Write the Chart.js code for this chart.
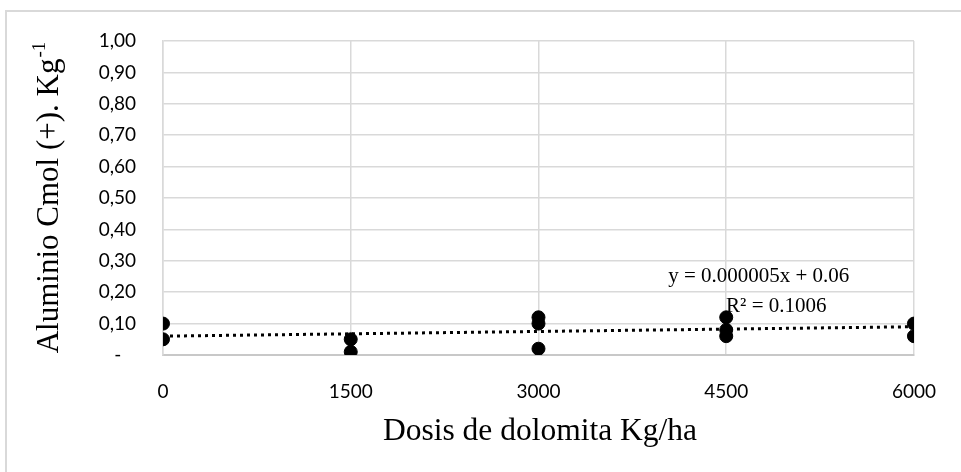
<!DOCTYPE html>
<html>
<head>
<meta charset="utf-8">
<script src="https://cdn.jsdelivr.net/npm/chart.js@4"></script>
<style>
  html, body { margin: 0; padding: 0; background: #fff; overflow: hidden; }
  #frame { position: absolute; left: 5px; top: 10px; width: 1000px; height: 520px; border: 2px solid #d9d9d9; box-sizing: border-box; }
  #chart { position: absolute; left: 0; top: 0; }
</style>
</head>
<body>
<div id="frame"></div>
<canvas id="chart" width="961" height="472"></canvas>
<script>
// --- Datos ---
const dosisTicks = [0, 1500, 3000, 4500, 6000];
const dosis = [0, 0, 1500, 1500, 3000, 3000, 3000, 4500, 4500, 4500, 6000, 6000];
const aluminio = [0.10, 0.05, 0.05, 0.01, 0.12, 0.10, 0.02, 0.12, 0.08, 0.06, 0.10, 0.06];
const trendX = [0, 6000];
const trendY = [0.06, 0.09];
const ecuacion = 'y = 0.000005x + 0.06';
const r2 = 'R² = 0.1006';
const tituloX = 'Dosis de dolomita Kg/ha';
const tituloY = 'Aluminio Cmol (+). Kg';
const tituloYSup = '-1';

// --- Geometría ---
const AREA = { left: 163, top: 41, right: 917, bottom: 355 };
const W = 961, H = 472;

const serif = '"Liberation Serif", "Times New Roman", serif';
const tickFont = { family: 'Lato, "Open Sans", sans-serif', size: 19 };

// Títulos y etiqueta de tendencia (texto real dibujado en el canvas)
const textos = {
  id: 'textos',
  afterDraw(c) {
    const ctx = c.ctx;
    ctx.save();
    ctx.fillStyle = '#000';
    ctx.textBaseline = 'middle';

    // título eje X
    ctx.font = `31.5px ${serif}`;
    ctx.textAlign = 'center';
    ctx.fillText(tituloX, (AREA.left + AREA.right) / 2, 432);

    // título eje Y con superíndice
    ctx.translate(50, 198);
    ctx.rotate(-Math.PI / 2);
    ctx.font = `31px ${serif}`;
    const w1 = ctx.measureText(tituloY).width;
    ctx.font = `19px ${serif}`;
    const w2 = ctx.measureText(tituloYSup).width;
    const x0 = -(w1 + w2) / 2;
    ctx.textAlign = 'left';
    ctx.font = `31px ${serif}`;
    ctx.fillText(tituloY, x0, 0);
    ctx.font = `19px ${serif}`;
    ctx.fillText(tituloYSup, x0 + w1 + 1, -10);
    ctx.restore();

    // ecuación
    const xs = c.scales.x, ys = c.scales.y;
    ctx.save();
    ctx.fillStyle = '#000';
    ctx.textBaseline = 'middle';
    ctx.textAlign = 'center';
    ctx.font = `21px ${serif}`;
    ctx.fillText(ecuacion, xs.getPixelForValue(4760), ys.getPixelForValue(0.25));
    ctx.fillText(r2, xs.getPixelForValue(4900), ys.getPixelForValue(0.155));
    ctx.restore();
  }
};

new Chart(document.getElementById('chart'), {
  type: 'scatter',
  data: {
    datasets: [
      {
        label: 'Tendencia',
        type: 'line',
        data: trendX.map((x, i) => ({ x, y: trendY[i] })),
        borderColor: '#000',
        borderWidth: 3,
        borderDash: [3, 4],
        pointRadius: 0,
        fill: false,
        order: 1
      },
      {
        label: 'Aluminio',
        data: dosis.map((x, i) => ({ x, y: aluminio[i] })),
        backgroundColor: '#000',
        borderColor: '#000',
        pointRadius: 6.5,
        pointHoverRadius: 6.5,
        order: 2
      }
    ]
  },
  options: {
    responsive: false,
    animation: false,
    events: [],
    layout: { autoPadding: false, padding: { left: 0, top: AREA.top, right: W - AREA.right, bottom: 0 } },
    plugins: { legend: { display: false }, tooltip: { enabled: false } },
    scales: {
      x: {
        type: 'linear',
        min: 0, max: 6000,
        afterBuildTicks: (s) => { s.ticks = dosisTicks.map(v => ({ value: v })); },
        afterFit: (s) => { s.height = H - AREA.bottom; },
        grid: { color: '#d9d9d9', lineWidth: 1.5, drawTicks: false },
        border: { color: '#c8c8c8', width: 2 },
        ticks: { color: '#000', font: tickFont, padding: 25, maxRotation: 0, callback: (v) => String(v) }
      },
      y: {
        min: 0, max: 1,
        afterFit: (s) => { s.width = AREA.left; },
        grid: { color: '#d9d9d9', lineWidth: 1.5, drawTicks: false },
        border: { color: '#d9d9d9', width: 1.5 },
        ticks: {
          stepSize: 0.1,
          color: '#000',
          font: tickFont,
          padding: 27,
          callback: (v) => v === 0 ? '-   ' : v.toFixed(2).replace('.', ',')
        }
      }
    }
  },
  plugins: [textos]
});
</script>
</body>
</html>
